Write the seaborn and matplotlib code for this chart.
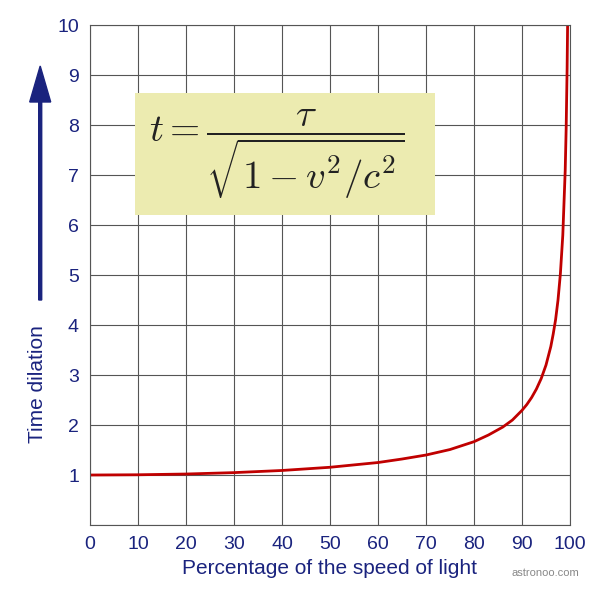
import matplotlib
matplotlib.use("Agg")
import matplotlib.pyplot as plt
import seaborn as sns
import pandas as pd

speed_pct = [0, 10, 20, 30, 40, 50, 60, 65, 70, 75, 80, 83, 86, 88, 90, 91, 92, 93, 94, 95, 96, 96.5, 97, 97.5, 98, 98.5, 99, 99.2, 99.4, 99.5]
dilation = [1.0, 1.005, 1.02, 1.048, 1.091, 1.155, 1.25, 1.32, 1.4, 1.51, 1.667, 1.80, 1.96, 2.1, 2.294, 2.41, 2.55, 2.72, 2.93, 3.2, 3.57, 3.82, 4.11, 4.5, 5.03, 5.8, 7.09, 7.93, 9.14, 10.0]
x_ticks = list(range(0, 101, 10))
y_ticks = list(range(1, 11))

df = pd.DataFrame({"speed": speed_pct, "t": dilation})
navy = "#1a237e"

sns.set_style("white")
plt.rcParams["font.family"] = ["Liberation Sans", "DejaVu Sans"]
plt.rcParams["mathtext.fontset"] = "cm"
fig = plt.figure(figsize=(6, 6), dpi=100)
ax = fig.add_axes([0.15, 0.125, 0.8, 0.833])
sns.lineplot(data=df, x="speed", y="t", color="#c00000", lw=2, ax=ax)
ax.set_xlim(0, 100)
ax.set_ylim(0, 10)
ax.set_xticks(x_ticks)
ax.set_yticks(range(0, 11))
ax.set_yticklabels([""] + [str(v) for v in y_ticks])
ax.grid(True, color="#555555", lw=0.8)
for s in ax.spines.values():
    s.set_color("#555555")
ax.tick_params(colors=navy, labelsize=14, length=0, pad=8)
ax.set_xlabel("Percentage of the speed of light", color=navy, fontsize=15, labelpad=4)
ax.set_ylabel("")
fig.text(0.063, 0.36, "Time dilation", rotation=90, color=navy, fontsize=15, ha="center", va="center")
fig.patches.append(matplotlib.patches.FancyArrow(0.067, 0.5, 0, 0.33, width=0.005, head_width=0.035,
                   head_length=0.06, color=navy, transform=fig.transFigure, figure=fig))
fig.patches.append(matplotlib.patches.Rectangle((0.225, 0.642), 0.5, 0.203, fc="#ecebb0", ec="none",
                   transform=fig.transFigure, figure=fig, zorder=3))
fig.text(0.462, 0.743, r"$t = \dfrac{\tau}{\sqrt{1 - v^2/c^2}}$", fontsize=28,
         ha="center", va="center", color="#222222", zorder=4)
fig.text(0.965, 0.04, "astronoo.com", color="#888888", fontsize=8, ha="right")
fig.savefig("out.png", dpi=100)
